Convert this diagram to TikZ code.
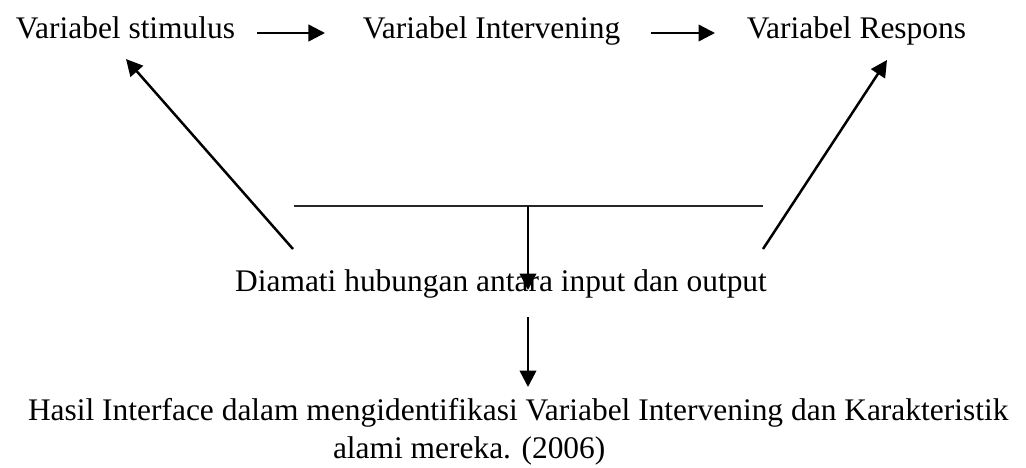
\documentclass[tikz,border=0pt]{standalone}
\usepackage{fontspec}
\setmainfont{Liberation Serif}
\usetikzlibrary{arrows.meta}
\tikzset{
  lbl/.style={inner sep=0pt, outer sep=0pt, font=\fontsize{12pt}{14pt}\selectfont},
  conn/.style={line width=0.95pt, -{Triangle[length=6.3pt,width=6.3pt]}},
  bar/.style={line width=0.5pt, black!85}
}
\begin{document}
\begin{tikzpicture}[x=0.3817pt, y=-0.3817pt]
\useasboundingbox (0,0) rectangle (1026,467);
% texts
\node[lbl, anchor=base] (stim) at (125.5,38) {Variabel stimulus};
\node[lbl, anchor=base] (inter) at (491.5,38) {Variabel Intervening};
\node[lbl, anchor=base] (resp) at (856.5,38) {Variabel Respons};
\node[lbl, anchor=base] (diam) at (501,291) {Diamati hubungan antara input dan output};
\node[lbl, anchor=base west] (hasil1) at (28,420) {Hasil Interface dalam mengidentifikasi Variabel Intervening dan Karakteristik};
\node[lbl, anchor=base west] (hasil2) at (333,458) {alami mereka. (2006)};
% connector end points
\coordinate (a1s) at (257,33);
\coordinate (a1e) at (325,33);
\coordinate (a2s) at (651,33);
\coordinate (a2e) at (715,33);
\coordinate (barL) at (294,206);
\coordinate (barR) at (763,206);
\coordinate (barM) at (528,206);
\coordinate (v1e) at (528,290);
\coordinate (v2s) at (528,317);
\coordinate (v2e) at (528,387);
\coordinate (dLs) at (293,249);
\coordinate (dLe) at (126,59);
\coordinate (dRs) at (763,249);
\coordinate (dRe) at (887,60);
% connectors
\draw[conn] (a1s) -- (a1e);
\draw[conn] (a2s) -- (a2e);
\draw[bar] (barL) -- (barR);
\draw[conn] (barM) -- (v1e);
\draw[conn] (v2s) -- (v2e);
\draw[conn] (dLs) -- (dLe);
\draw[conn] (dRs) -- (dRe);
\end{tikzpicture}
\end{document}
